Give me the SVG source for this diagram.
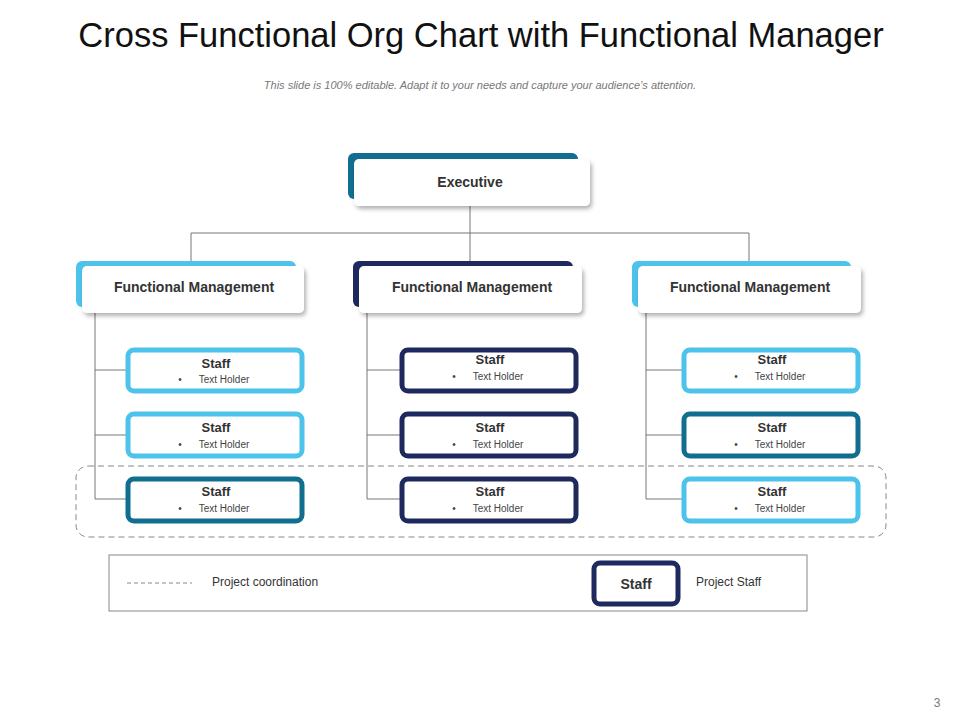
<svg xmlns="http://www.w3.org/2000/svg" width="960" height="720" viewBox="0 0 960 720">
<defs>
<filter id="sh" x="-10%" y="-20%" width="130%" height="160%"><feDropShadow dx="2" dy="3" stdDeviation="2" flood-color="#000" flood-opacity="0.3"/></filter>
<style>
text{font-family:"Liberation Sans",Arial,sans-serif;text-anchor:middle}
.hd{font-size:14px;font-weight:bold;fill:#333}
.st{font-size:13px;font-weight:bold;fill:#333}
.th{font-size:10px;fill:#444}
.bu{font-size:10px;fill:#444}
.ln{stroke:#777;stroke-width:1;fill:none}
.wb{fill:#fff;filter:url(#sh)}
.sb{fill:#fff;stroke-width:5}
.L{stroke:#4DC3EC}.T{stroke:#116E8F}.N{stroke:#1E2A5E}
</style>
</defs>
<rect width="960" height="720" fill="#fff"/>
<text x="481" y="47" style="font-size:34.5px;fill:#111">Cross Functional Org Chart with Functional Manager</text>
<text x="480" y="89" style="font-size:11px;font-style:italic;fill:#777">This slide is 100% editable. Adapt it to your needs and capture your audience’s attention.</text>
<g id="connectors">
<path class="ln" d="M470 206V233M191 233H749M191 233V266M470 233V266M749 233V266"/>
<path class="ln" d="M95 313V499M95 370H126M95 435H126M95 499H126"/>
<path class="ln" d="M367 313V499M367 370H400M367 435H400M367 499H400"/>
<path class="ln" d="M646 313V499M646 370H682M646 435H682M646 499H682"/>
</g>
<rect x="76" y="466" width="810" height="71" rx="12" fill="none" stroke="#888" stroke-dasharray="6,4"/>
<g id="exec"><rect x="348" y="153" width="230" height="46" rx="6" fill="#116E8F"/><rect class="wb" x="354" y="159" width="236" height="47" rx="5"/><text class="hd" x="470" y="187">Executive</text></g>
<g id="fm1"><rect x="76" y="261" width="220" height="46" rx="6" fill="#4DC3EC"/><rect class="wb" x="82" y="266" width="222" height="47" rx="5"/><text class="hd" x="194" y="292">Functional Management</text></g>
<g id="fm2"><rect x="353" y="261" width="220" height="46" rx="6" fill="#1E2A5E"/><rect class="wb" x="359" y="266" width="223" height="47" rx="5"/><text class="hd" x="472" y="292">Functional Management</text></g>
<g id="fm3"><rect x="632" y="261" width="219" height="46" rx="6" fill="#4DC3EC"/><rect class="wb" x="638" y="266" width="223" height="47" rx="5"/><text class="hd" x="750" y="292">Functional Management</text></g>
<g id="s11"><rect class="sb L" x="128" y="350" width="174" height="41" rx="6"/><text class="st" x="216" y="368">Staff</text><text class="bu" x="180" y="383">•</text><text class="th" x="224" y="383">Text Holder</text></g>
<g id="s12"><rect class="sb L" x="128" y="414" width="174" height="42" rx="6"/><text class="st" x="216" y="432">Staff</text><text class="bu" x="180" y="448">•</text><text class="th" x="224" y="448">Text Holder</text></g>
<g id="s13"><rect class="sb T" x="128" y="479" width="174" height="42" rx="6"/><text class="st" x="216" y="496">Staff</text><text class="bu" x="180" y="512">•</text><text class="th" x="224" y="512">Text Holder</text></g>
<g id="s21"><rect class="sb N" x="402" y="350" width="174" height="41" rx="6"/><text class="st" x="490" y="364">Staff</text><text class="bu" x="454" y="380">•</text><text class="th" x="498" y="380">Text Holder</text></g>
<g id="s22"><rect class="sb N" x="402" y="414" width="174" height="42" rx="6"/><text class="st" x="490" y="432">Staff</text><text class="bu" x="454" y="448">•</text><text class="th" x="498" y="448">Text Holder</text></g>
<g id="s23"><rect class="sb N" x="402" y="479" width="174" height="42" rx="6"/><text class="st" x="490" y="496">Staff</text><text class="bu" x="454" y="512">•</text><text class="th" x="498" y="512">Text Holder</text></g>
<g id="s31"><rect class="sb L" x="684" y="350" width="174" height="41" rx="6"/><text class="st" x="772" y="364">Staff</text><text class="bu" x="736" y="380">•</text><text class="th" x="780" y="380">Text Holder</text></g>
<g id="s32"><rect class="sb T" x="684" y="414" width="174" height="42" rx="6"/><text class="st" x="772" y="432">Staff</text><text class="bu" x="736" y="448">•</text><text class="th" x="780" y="448">Text Holder</text></g>
<g id="s33"><rect class="sb L" x="684" y="479" width="174" height="42" rx="6"/><text class="st" x="772" y="496">Staff</text><text class="bu" x="736" y="512">•</text><text class="th" x="780" y="512">Text Holder</text></g>
<g id="legend">
<rect x="109" y="555" width="698" height="56" fill="#fff" stroke="#888"/>
<line x1="127" y1="583" x2="192" y2="583" stroke="#888" stroke-dasharray="4,3"/>
<text x="212" y="586" style="font-size:12px;fill:#333;text-anchor:start">Project coordination</text>
<rect class="sb N" x="594" y="563" width="84" height="41" rx="6"/>
<text class="st" x="636" y="589" style="font-size:14px">Staff</text>
<text x="696" y="586" style="font-size:12px;fill:#333;text-anchor:start">Project Staff</text>
</g>
<text x="937" y="707" style="font-size:12px;fill:#777">3</text>
</svg>
